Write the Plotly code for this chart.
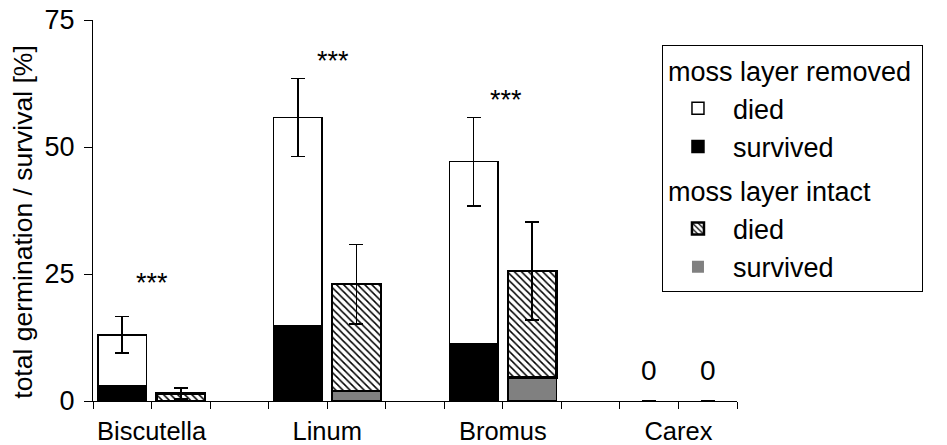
import plotly.graph_objects as go

species = ["Biscutella", "Linum", "Bromus", "Carex"]
removed_total = [13.0, 55.8, 47.1, 0.0]
removed_survived = [3.1, 14.8, 11.2, 0.0]
removed_err = [3.6, 7.7, 8.7, 0.0]
intact_total = [1.5, 23.0, 25.6, 0.0]
intact_survived = [0.0, 2.0, 4.6, 0.0]
intact_err = [1.1, 7.8, 9.6, 0.0]
sig_labels = ["***", "***", "***", ""]
zero_labels = ["", "", "", "0"]

removed_died = [t - s for t, s in zip(removed_total, removed_survived)]
intact_died = [t - s for t, s in zip(intact_total, intact_survived)]

# slot positions: each species occupies 3 slots (removed, intact, gap)
x_rem = [3 * i + 0.5 for i in range(len(species))]
x_int = [3 * i + 1.5 for i in range(len(species))]


def outline(values, w):
    # no outline for empty (zero) bars
    return [w if v > 0 else 0 for v in values]


FONT = "Liberation Sans, Arial, sans-serif"
FS = 27
W = 0.83

fig = go.Figure()
fig.add_bar(x=x_rem, y=removed_survived, width=W, name="survived",
            legendgroup="rem", legendgrouptitle_text="moss layer removed",
            legendrank=2,
            marker=dict(color="black",
                        line=dict(color="black", width=outline(removed_survived, 1.5))))
fig.add_bar(x=x_rem, y=removed_died, width=W, name="died",
            legendgroup="rem", legendgrouptitle_text="moss layer removed",
            legendrank=1,
            marker=dict(color="white",
                        line=dict(color="black", width=outline(removed_died, 1.5))),
            error_y=dict(type="data", array=removed_err, visible=True,
                         color="black", thickness=1.6, width=7))
fig.add_bar(x=x_int, y=intact_survived, width=W, name="survived",
            legendgroup="int", legendgrouptitle_text="moss layer intact",
            legendrank=4,
            marker=dict(color="#808080",
                        line=dict(color="black", width=outline(intact_survived, 1.5))))
fig.add_bar(x=x_int, y=intact_died, width=W, name="died",
            legendgroup="int", legendgrouptitle_text="moss layer intact",
            legendrank=3,
            marker=dict(color="white",
                        line=dict(color="black", width=outline(intact_died, 2.5)),
                        pattern=dict(shape="\\", fgcolor="black", bgcolor="white",
                                     size=5, solidity=0.3)),
            error_y=dict(type="data", array=intact_err, visible=True,
                         color="black", thickness=1.6, width=7))

# significance stars above each species group
sig_x = [1.0, 4.1, 7.05]
sig_y = [23.2, 66.9, 59.3]
for lab, xx, yy in zip(sig_labels, sig_x, sig_y):
    if lab:
        fig.add_annotation(x=xx, y=yy, text=lab, showarrow=False,
                           font=dict(family=FONT, size=FS, color="black"))

for i, lab in enumerate(zero_labels):
    if lab:
        for xx in (x_rem[i], x_int[i]):
            fig.add_annotation(x=xx, y=6.1, text=lab, showarrow=False,
                               font=dict(family=FONT, size=28, color="black"))

# y-axis title (placed slightly below the axis centre, as in the original)
fig.add_annotation(xref="paper", yref="paper", x=-0.109, y=0.47,
                   text="total germination / survival [%]", textangle=-90,
                   showarrow=False, xanchor="center", yanchor="middle",
                   font=dict(family=FONT, size=26.5, color="black"))

tickvals = list(range(0, 12))
ticktext = [""] * 12
for i, s in enumerate(species):
    ticktext[3 * i + 1] = s

fig.update_layout(
    width=947, height=445,
    template="none",
    barmode="stack",
    paper_bgcolor="white", plot_bgcolor="white",
    margin=dict(l=93, r=210, t=20, b=44),
    font=dict(family=FONT, size=FS, color="black"),
    showlegend=True,
    legend=dict(x=0.8835, y=0.934, xanchor="left", yanchor="top",
                bordercolor="black", borderwidth=1, bgcolor="white",
                font=dict(family=FONT, size=FS, color="black"),
                grouptitlefont=dict(family=FONT, size=FS, color="black"),
                traceorder="grouped", tracegroupgap=6,
                itemwidth=60),
    xaxis=dict(range=[0, 11], tickvals=tickvals, ticktext=ticktext,
               ticks="outside", ticklen=7, tickcolor="black", tickwidth=1,
               showline=True, linecolor="black", linewidth=1,
               showgrid=False, zeroline=False, automargin=False,
               tickfont=dict(family=FONT, size=25.5)),
    yaxis=dict(range=[0, 75], tickvals=[0, 25, 50, 75],
               ticks="outside", ticklen=8, tickcolor="black", tickwidth=1,
               showline=True, linecolor="black", linewidth=1,
               showgrid=False, zeroline=False, automargin=False,
               ticklabelstandoff=4,
               tickfont=dict(family=FONT, size=27)),
)

fig.write_html("out.html")
